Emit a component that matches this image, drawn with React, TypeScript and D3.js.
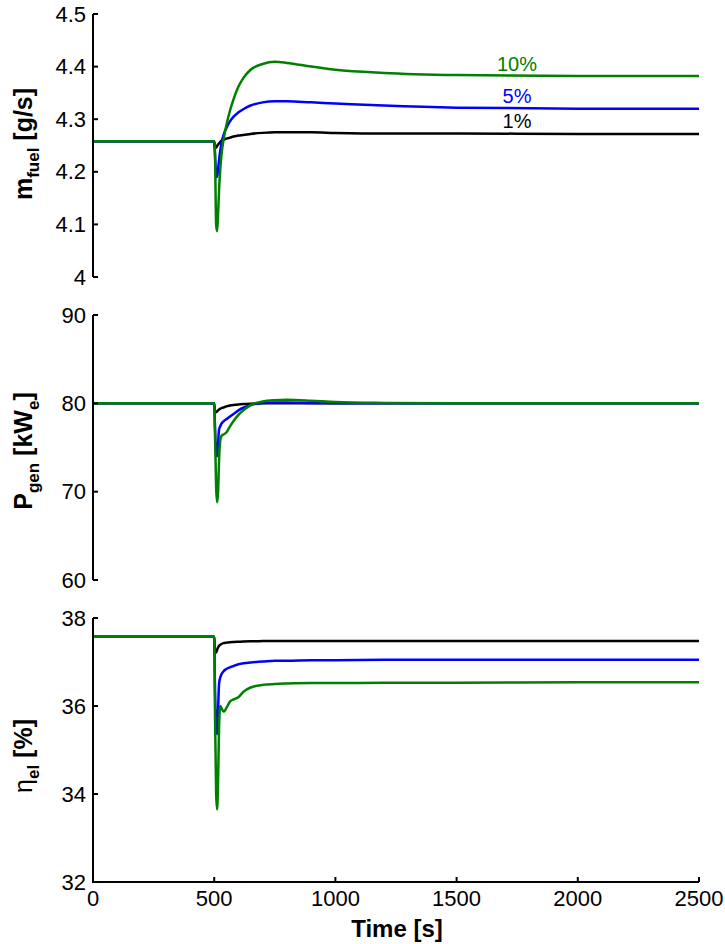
import React from "react";
import * as d3 from "d3";

// ---- data ----
const timeS = [0, 500, 503, 508, 512, 516, 520, 525, 530, 540, 550, 565, 580, 600, 620, 650, 700, 750, 800, 900, 1000, 1200, 1500, 2000, 2500];

const fuel10 = [4.258, 4.258, 4.24, 4.10, 4.087, 4.12, 4.165, 4.205, 4.232, 4.265, 4.288, 4.316, 4.338, 4.362, 4.378, 4.394, 4.405, 4.409, 4.407, 4.400, 4.394, 4.388, 4.384, 4.382, 4.382];
const fuel5 = [4.258, 4.258, 4.235, 4.195, 4.19, 4.205, 4.222, 4.24, 4.255, 4.272, 4.283, 4.296, 4.305, 4.313, 4.319, 4.326, 4.332, 4.334, 4.334, 4.332, 4.330, 4.326, 4.322, 4.320, 4.320];
const fuel1 = [4.258, 4.258, 4.245, 4.246, 4.249, 4.252, 4.254, 4.257, 4.259, 4.261, 4.263, 4.265, 4.267, 4.269, 4.270, 4.272, 4.274, 4.275, 4.275, 4.275, 4.274, 4.273, 4.273, 4.272, 4.272];

const pgen10 = [80, 80, 77, 70.5, 68.8, 70.0, 73.5, 75.8, 76.3, 76.5, 76.7, 77.4, 78.0, 78.7, 79.2, 79.8, 80.2, 80.35, 80.4, 80.3, 80.15, 80.05, 80.0, 80.0, 80.0];
const pgen5 = [80, 80, 77.5, 74.2, 74.0, 75.5, 77.0, 77.4, 77.7, 78.0, 78.2, 78.5, 78.8, 79.2, 79.5, 79.8, 80.05, 80.1, 80.1, 80.05, 80.02, 80.0, 80.0, 80.0, 80.0];
const pgen1 = [80, 80, 79.0, 79.0, 79.1, 79.2, 79.3, 79.4, 79.45, 79.55, 79.65, 79.75, 79.82, 79.88, 79.92, 79.96, 80.0, 80.02, 80.02, 80.01, 80.0, 80.0, 80.0, 80.0, 80.0];

const eta10 = [37.575, 37.575, 36.0, 34.0, 33.65, 34.3, 35.5, 36.0, 35.95, 35.87, 35.95, 36.1, 36.15, 36.2, 36.32, 36.42, 36.48, 36.5, 36.51, 36.52, 36.52, 36.53, 36.53, 36.54, 36.54];
const eta5 = [37.575, 37.575, 36.5, 35.5, 35.36, 35.9, 36.5, 36.65, 36.72, 36.8, 36.84, 36.88, 36.91, 36.95, 36.97, 36.99, 37.01, 37.03, 37.03, 37.04, 37.04, 37.05, 37.05, 37.05, 37.05];
const eta1 = [37.575, 37.575, 37.2, 37.22, 37.28, 37.33, 37.37, 37.39, 37.41, 37.43, 37.44, 37.45, 37.455, 37.46, 37.465, 37.47, 37.475, 37.48, 37.48, 37.48, 37.48, 37.48, 37.48, 37.48, 37.48];

const xTicks = [0, 500, 1000, 1500, 2000, 2500];
const fuelTicks = [4, 4.1, 4.2, 4.3, 4.4, 4.5];
const pgenTicks = [60, 70, 80, 90];
const etaTicks = [32, 34, 36, 38];
const seriesLabels = ["1%", "5%", "10%"];
const seriesColors = ["#000000", "#0000ff", "#008000"];

const FONT = "'Liberation Sans', Arial, Helvetica, sans-serif";

const x = d3.scaleLinear().domain([0, 2500]).range([93, 699]);

type Panel = {
  domain: [number, number];
  range: [number, number];
  ticks: number[];
  fmt: (v: number) => string;
  series: number[][];
  label: React.ReactNode;
  labelY: number;
};

function PanelView({ p, bottom }: { p: Panel; bottom: boolean }) {
  const y = d3.scaleLinear().domain(p.domain).range(p.range);
  const line = d3
    .line<number>()
    .x((_, i) => x(timeS[i]))
    .y((v) => y(v))
    .curve(d3.curveMonotoneX);
  return (
    <g>
      {p.series.map((s, i) => (
        <path key={i} d={line(s) || ""} fill="none" stroke={seriesColors[i]} strokeWidth={2.5} strokeLinejoin="round" />
      ))}
      <line x1={x(0)} x2={x(0)} y1={p.range[1]} y2={p.range[0]} stroke="#000" strokeWidth={2} />
      {p.ticks.map((t) => (
        <g key={t}>
          <line x1={x(0)} x2={x(0) + 5} y1={y(t)} y2={y(t)} stroke="#000" strokeWidth={2} />
          <text x={86} y={y(t) + 7.5} textAnchor="end" fontSize={22} fontFamily={FONT}>
            {p.fmt(t)}
          </text>
        </g>
      ))}
      <text
        transform={`translate(32,${p.labelY}) rotate(-90)`}
        textAnchor="middle"
        fontSize={25}
        fontWeight="bold"
        fontFamily={FONT}
      >
        {p.label}
      </text>
      {bottom && (
        <g>
          <line x1={x(0) - 1} x2={x(2500)} y1={p.range[0]} y2={p.range[0]} stroke="#000" strokeWidth={2} />
          {xTicks.map((t) => (
            <g key={t}>
              <line x1={x(t)} x2={x(t)} y1={p.range[0]} y2={p.range[0] - 5} stroke="#000" strokeWidth={2} />
              <text x={x(t)} y={906} textAnchor="middle" fontSize={22} fontFamily={FONT}>
                {t}
              </text>
            </g>
          ))}
          <text x={397} y={937} textAnchor="middle" fontSize={24} fontWeight="bold" fontFamily={FONT}>
            Time [s]
          </text>
        </g>
      )}
    </g>
  );
}

export default function App() {
  const panels: Panel[] = [
    {
      domain: [4, 4.5],
      range: [277, 14],
      ticks: fuelTicks,
      fmt: (v) => (v === 4 ? "4" : v.toFixed(1)),
      series: [fuel1, fuel5, fuel10],
      labelY: 144,
      label: (
        <>
          <tspan>m</tspan>
          <tspan fontSize={17} dy={7}>fuel</tspan>
          <tspan dy={-7}> [g/s]</tspan>
        </>
      ),
    },
    {
      domain: [60, 90],
      range: [580, 315],
      ticks: pgenTicks,
      fmt: (v) => String(v),
      series: [pgen1, pgen5, pgen10],
      labelY: 451,
      label: (
        <>
          <tspan>P</tspan>
          <tspan fontSize={17} dy={7}>gen</tspan>
          <tspan dy={-7}> [kW</tspan>
          <tspan fontSize={17} dy={7}>e</tspan>
          <tspan dy={-7}>]</tspan>
        </>
      ),
    },
    {
      domain: [32, 38],
      range: [882, 618],
      ticks: etaTicks,
      fmt: (v) => String(v),
      series: [eta1, eta5, eta10],
      labelY: 756,
      label: (
        <>
          <tspan fontWeight="normal">η</tspan>
          <tspan fontSize={17} dy={7}>el</tspan>
          <tspan dy={-7}> [%]</tspan>
        </>
      ),
    },
  ];
  const labelBaselines = [128, 103, 71];
  return (
    <svg width={725} height={944} style={{ position: "absolute", left: 0, top: 0, background: "#fff" }}>
      <rect width={725} height={944} fill="#fff" />
      {panels.map((p, i) => (
        <PanelView key={i} p={p} bottom={i === 2} />
      ))}
      {seriesLabels.map((l, i) => (
        <text key={l} x={517} y={labelBaselines[i]} textAnchor="middle" fontSize={20} fill={seriesColors[i]} fontFamily={FONT}>
          {l}
        </text>
      ))}
    </svg>
  );
}
